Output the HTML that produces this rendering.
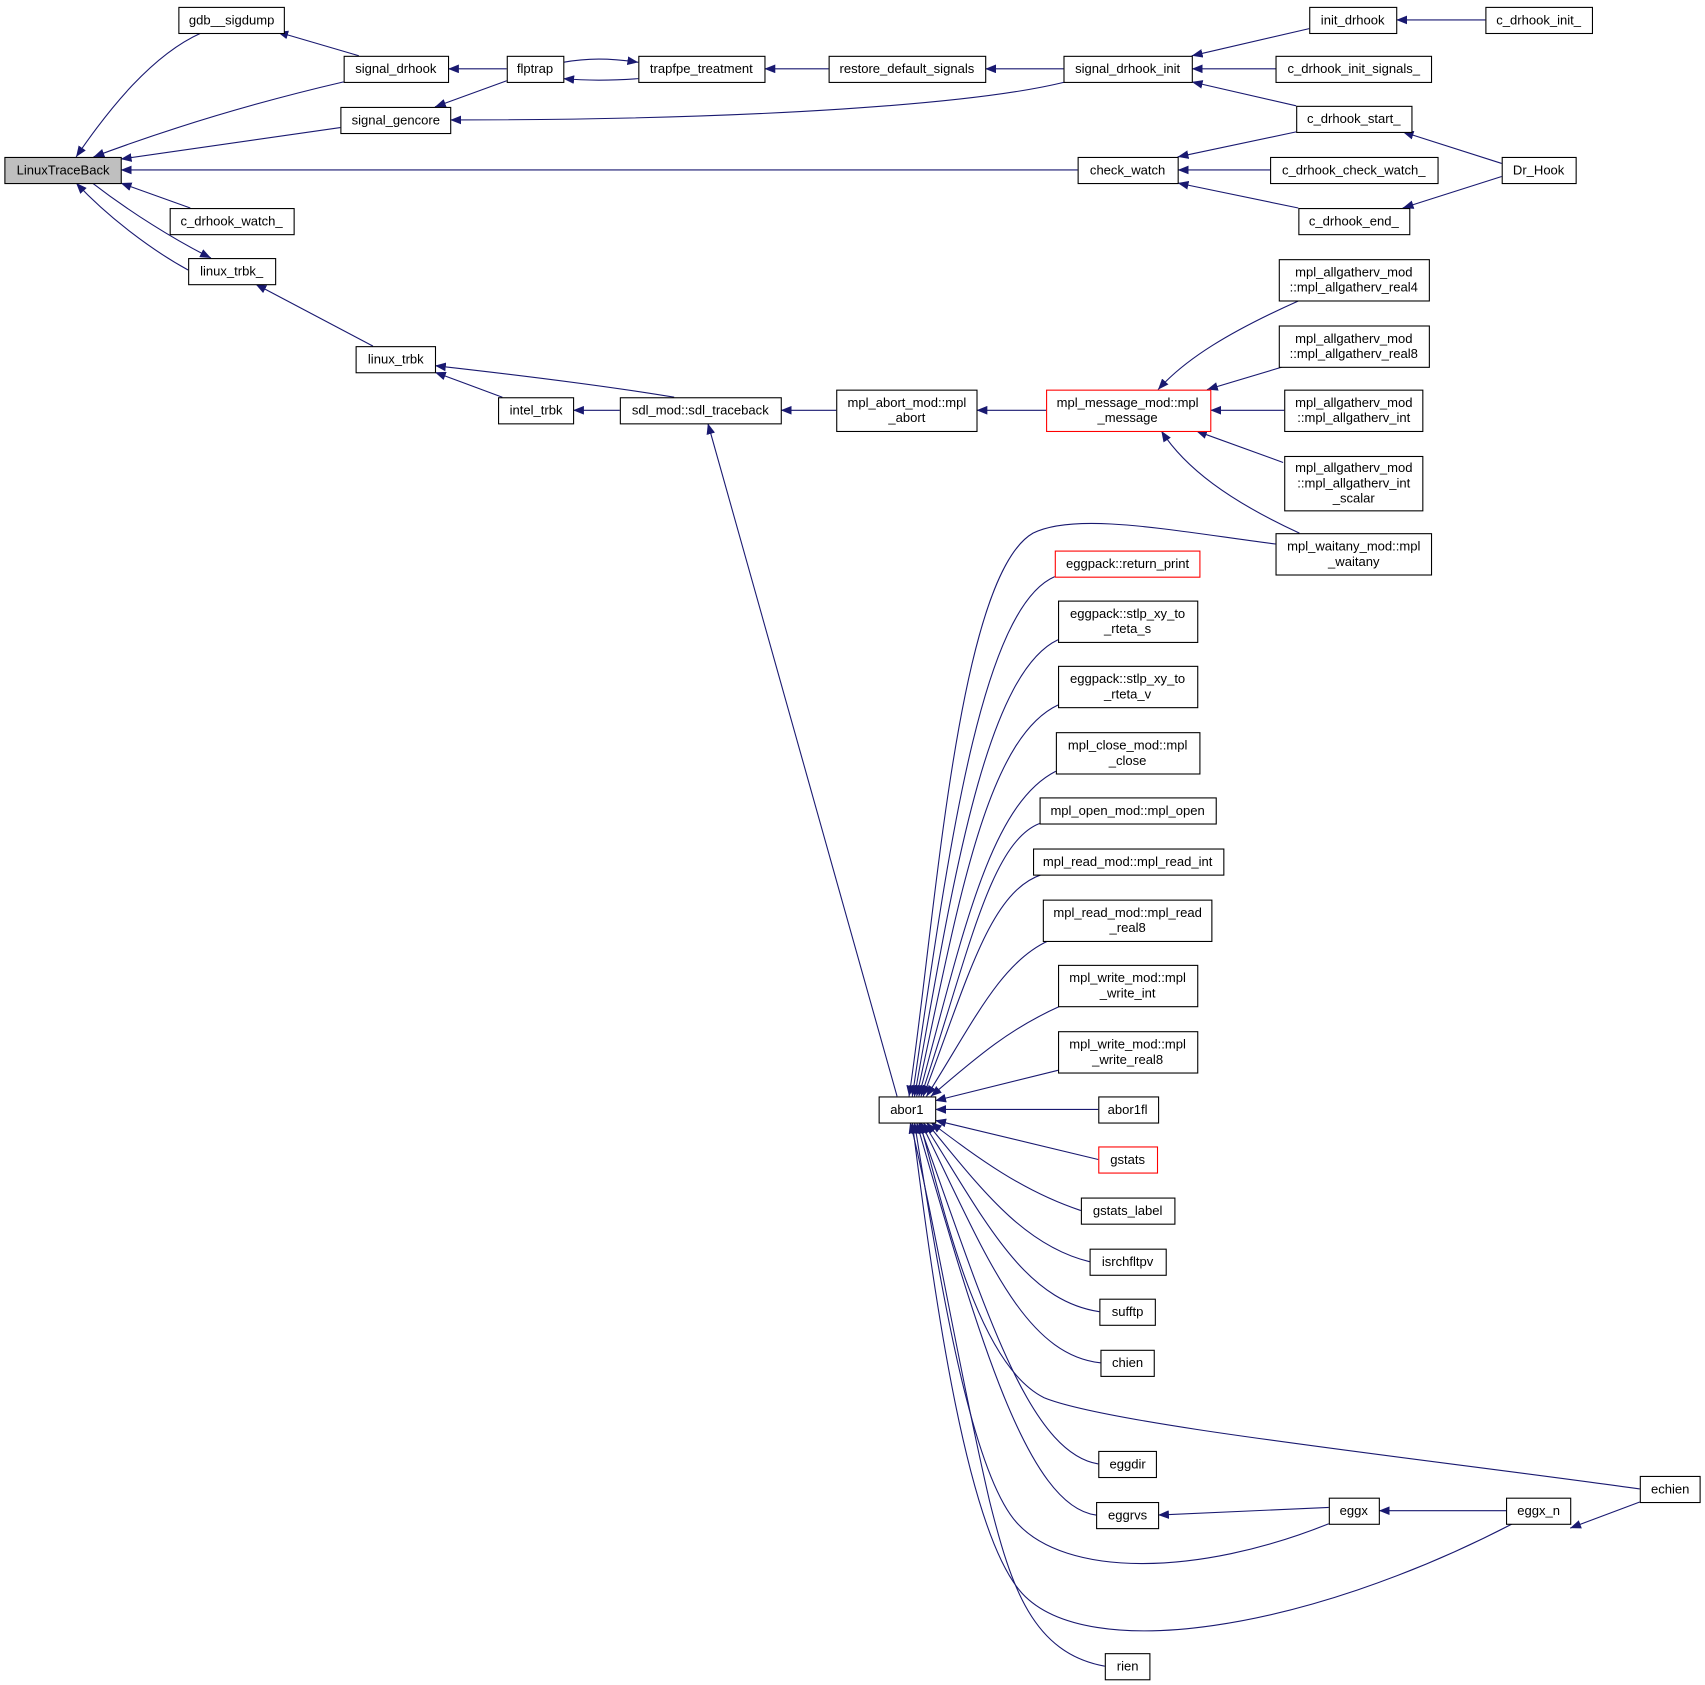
<!DOCTYPE html>
<html><head><meta charset="utf-8"><style>
html,body{margin:0;padding:0;background:#fff}
svg{display:block}
text{font-family:"Liberation Sans",Arial,sans-serif;font-size:12px;fill:#000}
.n{fill:#fff;stroke:#000;stroke-width:1}
.r{fill:#fff;stroke:#f00;stroke-width:1}
.e{fill:none;stroke:#191970;stroke-width:1}
</style></head><body>
<svg width="1705" height="1685" viewBox="0 0 1568 1549" xmlns="http://www.w3.org/2000/svg">
<defs><marker id="a" viewBox="0 0 10 8" refX="10" refY="4" markerWidth="10" markerHeight="8" markerUnits="userSpaceOnUse" orient="auto"><path d="M0,0 L10,4 L0,8 Z" fill="#191970"/></marker></defs>
<g class="edges">
<path class="e" marker-end="url(#a)" d="M185,30 C140,50 100,100 70,144"/>
<path class="e" marker-end="url(#a)" d="M316,75 C230,95 150,120 86,144"/>
<path class="e" marker-end="url(#a)" d="M313,117 L111,146"/>
<path class="e" marker-end="url(#a)" d="M991,156 L111,156"/>
<path class="e" marker-end="url(#a)" d="M175,191 L111,168"/>
<path class="e" marker-end="url(#a)" d="M85,168 C120,195 160,220 194,237"/>
<path class="e" marker-end="url(#a)" d="M173,248 C140,230 100,200 70,168"/>
<path class="e" marker-end="url(#a)" d="M330,51 L255,29"/>
<path class="e" marker-end="url(#a)" d="M466,63 L412,63"/>
<path class="e" marker-end="url(#a)" d="M466,74 L400,98"/>
<path class="e" marker-end="url(#a)" d="M518,57 C540,53 560,53 587,57"/>
<path class="e" marker-end="url(#a)" d="M587,72 C560,74 540,74 518,72"/>
<path class="e" marker-end="url(#a)" d="M762,63 L703,63"/>
<path class="e" marker-end="url(#a)" d="M978,63 L906,63"/>
<path class="e" marker-end="url(#a)" d="M980,75 C900,95 700,110 414,110"/>
<path class="e" marker-end="url(#a)" d="M1204,26 L1096,51"/>
<path class="e" marker-end="url(#a)" d="M1366,18 L1284,18"/>
<path class="e" marker-end="url(#a)" d="M1173,63 L1096,63"/>
<path class="e" marker-end="url(#a)" d="M1192,97 L1096,75"/>
<path class="e" marker-end="url(#a)" d="M1192,121 L1083,144"/>
<path class="e" marker-end="url(#a)" d="M1168,156 L1083,156"/>
<path class="e" marker-end="url(#a)" d="M1194,191 L1083,168"/>
<path class="e" marker-end="url(#a)" d="M1381,150 L1290,121"/>
<path class="e" marker-end="url(#a)" d="M1381,162 L1290,191"/>
<path class="e" marker-end="url(#a)" d="M343,318 L235,261"/>
<path class="e" marker-end="url(#a)" d="M462,365 L400,342"/>
<path class="e" marker-end="url(#a)" d="M620,365 C560,355 480,345 400,336"/>
<path class="e" marker-end="url(#a)" d="M570,377 L527,377"/>
<path class="e" marker-end="url(#a)" d="M769,377 L718,377"/>
<path class="e" marker-end="url(#a)" d="M962,377 L898,377"/>
<path class="e" marker-end="url(#a)" d="M1195,276 C1130,305 1090,330 1065,358"/>
<path class="e" marker-end="url(#a)" d="M1180,337 L1110,358"/>
<path class="e" marker-end="url(#a)" d="M1181,377 L1113,377"/>
<path class="e" marker-end="url(#a)" d="M1180,425 L1100,396"/>
<path class="e" marker-end="url(#a)" d="M1195,490 C1130,460 1090,430 1068,396"/>
<path class="e" marker-end="url(#a)" d="M825,1008 L651,389"/>
<path class="e" marker-end="url(#a)" d="M1173,500 C1080,488 990,470 950,490 C880,530 860,850 836,1008"/>
<path class="e" marker-end="url(#a)" d="M970,530 C900,560 870,800 839,1008"/>
<path class="e" marker-end="url(#a)" d="M973,588 C905,620 875,820 841,1008"/>
<path class="e" marker-end="url(#a)" d="M973,648 C905,680 880,840 843,1008"/>
<path class="e" marker-end="url(#a)" d="M971,709 C910,740 885,860 845,1008"/>
<path class="e" marker-end="url(#a)" d="M956,757 C910,775 890,880 847,1008"/>
<path class="e" marker-end="url(#a)" d="M958,804 C910,820 890,900 849,1008"/>
<path class="e" marker-end="url(#a)" d="M964,865 C920,885 895,940 852,1008"/>
<path class="e" marker-end="url(#a)" d="M975,925 C930,945 900,970 856,1008"/>
<path class="e" marker-end="url(#a)" d="M973,984 L860,1012"/>
<path class="e" marker-end="url(#a)" d="M1010,1020 L860,1020"/>
<path class="e" marker-end="url(#a)" d="M1010,1066 L860,1030"/>
<path class="e" marker-end="url(#a)" d="M994,1113 C940,1095 900,1065 856,1032"/>
<path class="e" marker-end="url(#a)" d="M1002,1160 C940,1145 900,1090 852,1032"/>
<path class="e" marker-end="url(#a)" d="M1011,1206 C940,1195 905,1120 849,1032"/>
<path class="e" marker-end="url(#a)" d="M1012,1253 C940,1245 905,1150 847,1032"/>
<path class="e" marker-end="url(#a)" d="M1508,1369 C1300,1340 1020,1310 960,1285 C900,1255 870,1120 846,1032"/>
<path class="e" marker-end="url(#a)" d="M1010,1346 C945,1335 905,1200 845,1032"/>
<path class="e" marker-end="url(#a)" d="M1008,1393 C945,1385 900,1230 843,1032"/>
<path class="e" marker-end="url(#a)" d="M1222,1401 C1100,1450 980,1450 935,1400 C890,1350 860,1150 841,1032"/>
<path class="e" marker-end="url(#a)" d="M1391,1401 C1200,1500 1000,1530 940,1465 C890,1410 860,1200 839,1032"/>
<path class="e" marker-end="url(#a)" d="M1016,1532 C950,1520 930,1460 910,1380 C880,1250 855,1100 837,1032"/>
<path class="e" marker-end="url(#a)" d="M1222,1386 L1065,1393"/>
<path class="e" marker-end="url(#a)" d="M1385,1389 L1268,1389"/>
<path class="e" marker-end="url(#a)" d="M1508,1381 L1444,1405"/>
</g>
<g text-anchor="middle">
<rect x="4.5" y="144.5" width="107" height="24" fill="#bfbfbf" stroke="#000"/><text x="58" y="160">LinuxTraceBack</text>
<rect class="n" x="164.5" y="6.5" width="97" height="24"/><text x="213" y="22">gdb__sigdump</text>
<rect class="n" x="316.5" y="51.5" width="96" height="24"/><text x="364" y="67">signal_drhook</text>
<rect class="n" x="313.5" y="98.5" width="101" height="24"/><text x="364" y="114">signal_gencore</text>
<rect class="n" x="156.5" y="191.5" width="114" height="24"/><text x="213" y="207">c_drhook_watch_</text>
<rect class="n" x="173.5" y="237.5" width="80" height="24"/><text x="213" y="253">linux_trbk_</text>
<rect class="n" x="466.5" y="51.5" width="52" height="24"/><text x="492" y="67">flptrap</text>
<rect class="n" x="587.5" y="51.5" width="116" height="24"/><text x="645" y="67">trapfpe_treatment</text>
<rect class="n" x="762.5" y="51.5" width="144" height="24"/><text x="834" y="67">restore_default_signals</text>
<rect class="n" x="978.5" y="51.5" width="118" height="24"/><text x="1037" y="67">signal_drhook_init</text>
<rect class="n" x="1204.5" y="6.5" width="80" height="24"/><text x="1244" y="22">init_drhook</text>
<rect class="n" x="1366.5" y="6.5" width="98" height="24"/><text x="1415" y="22">c_drhook_init_</text>
<rect class="n" x="1173.5" y="51.5" width="143" height="24"/><text x="1245" y="67">c_drhook_init_signals_</text>
<rect class="n" x="1192.5" y="97.5" width="106" height="24"/><text x="1245" y="113">c_drhook_start_</text>
<rect class="n" x="991.5" y="144.5" width="92" height="24"/><text x="1037" y="160">check_watch</text>
<rect class="n" x="1168.5" y="144.5" width="154" height="24"/><text x="1245" y="160">c_drhook_check_watch_</text>
<rect class="n" x="1194.5" y="191.5" width="102" height="24"/><text x="1245" y="207">c_drhook_end_</text>
<rect class="n" x="1381.5" y="144.5" width="68" height="24"/><text x="1415" y="160">Dr_Hook</text>
<rect class="n" x="327.5" y="318.5" width="73" height="24"/><text x="364" y="334">linux_trbk</text>
<rect class="n" x="458.5" y="365.5" width="69" height="24"/><text x="493" y="381">intel_trbk</text>
<rect class="n" x="570.5" y="365.5" width="148" height="24"/><text x="644" y="381">sdl_mod::sdl_traceback</text>
<rect class="n" x="769.5" y="358.5" width="129" height="38"/><text x="834" y="374">mpl_abort_mod::mpl</text><text x="834" y="388">_abort</text>
<rect class="r" x="962.5" y="358.5" width="151" height="38"/><text x="1037" y="374">mpl_message_mod::mpl</text><text x="1037" y="388">_message</text>
<rect class="n" x="1176.5" y="238.5" width="138" height="38"/><text x="1245" y="254">mpl_allgatherv_mod</text><text x="1245" y="268">::mpl_allgatherv_real4</text>
<rect class="n" x="1176.5" y="299.5" width="138" height="38"/><text x="1245" y="315">mpl_allgatherv_mod</text><text x="1245" y="329">::mpl_allgatherv_real8</text>
<rect class="n" x="1181.5" y="358.5" width="127" height="38"/><text x="1245" y="374">mpl_allgatherv_mod</text><text x="1245" y="388">::mpl_allgatherv_int</text>
<rect class="n" x="1181.5" y="419.5" width="127" height="50"/><text x="1245" y="434">mpl_allgatherv_mod</text><text x="1245" y="448">::mpl_allgatherv_int</text><text x="1245" y="462">_scalar</text>
<rect class="n" x="1173.5" y="490.5" width="143" height="38"/><text x="1245" y="506">mpl_waitany_mod::mpl</text><text x="1245" y="520">_waitany</text>
<rect class="r" x="970.5" y="506.5" width="133" height="24"/><text x="1037" y="522">eggpack::return_print</text>
<rect class="n" x="973.5" y="552.5" width="128" height="38"/><text x="1037" y="568">eggpack::stlp_xy_to</text><text x="1037" y="582">_rteta_s</text>
<rect class="n" x="973.5" y="612.5" width="128" height="38"/><text x="1037" y="628">eggpack::stlp_xy_to</text><text x="1037" y="642">_rteta_v</text>
<rect class="n" x="971.5" y="673.5" width="132" height="38"/><text x="1037" y="689">mpl_close_mod::mpl</text><text x="1037" y="703">_close</text>
<rect class="n" x="956.5" y="733.5" width="162" height="24"/><text x="1037" y="749">mpl_open_mod::mpl_open</text>
<rect class="n" x="950.5" y="780.5" width="175" height="24"/><text x="1037" y="796">mpl_read_mod::mpl_read_int</text>
<rect class="n" x="959.5" y="827.5" width="155" height="38"/><text x="1037" y="843">mpl_read_mod::mpl_read</text><text x="1037" y="857">_real8</text>
<rect class="n" x="973.5" y="887.5" width="128" height="38"/><text x="1037" y="903">mpl_write_mod::mpl</text><text x="1037" y="917">_write_int</text>
<rect class="n" x="973.5" y="948.5" width="128" height="38"/><text x="1037" y="964">mpl_write_mod::mpl</text><text x="1037" y="978">_write_real8</text>
<rect class="n" x="808.5" y="1008.5" width="52" height="24"/><text x="834" y="1024">abor1</text>
<rect class="n" x="1010.5" y="1008.5" width="55" height="24"/><text x="1037" y="1024">abor1fl</text>
<rect class="r" x="1010.5" y="1054.5" width="54" height="24"/><text x="1037" y="1070">gstats</text>
<rect class="n" x="994.5" y="1101.5" width="86" height="24"/><text x="1037" y="1117">gstats_label</text>
<rect class="n" x="1002.5" y="1148.5" width="70" height="24"/><text x="1037" y="1164">isrchfltpv</text>
<rect class="n" x="1011.5" y="1194.5" width="51" height="24"/><text x="1037" y="1210">sufftp</text>
<rect class="n" x="1012.5" y="1241.5" width="49" height="24"/><text x="1037" y="1257">chien</text>
<rect class="n" x="1010.5" y="1334.5" width="53" height="24"/><text x="1037" y="1350">eggdir</text>
<rect class="n" x="1008.5" y="1381.5" width="57" height="24"/><text x="1037" y="1397">eggrvs</text>
<rect class="n" x="1016.5" y="1520.5" width="41" height="24"/><text x="1037" y="1536">rien</text>
<rect class="n" x="1222.5" y="1377.5" width="46" height="24"/><text x="1245" y="1393">eggx</text>
<rect class="n" x="1385.5" y="1377.5" width="59" height="24"/><text x="1415" y="1393">eggx_n</text>
<rect class="n" x="1508.5" y="1357.5" width="55" height="24"/><text x="1536" y="1373">echien</text>
</g>
</svg>
</body></html>
